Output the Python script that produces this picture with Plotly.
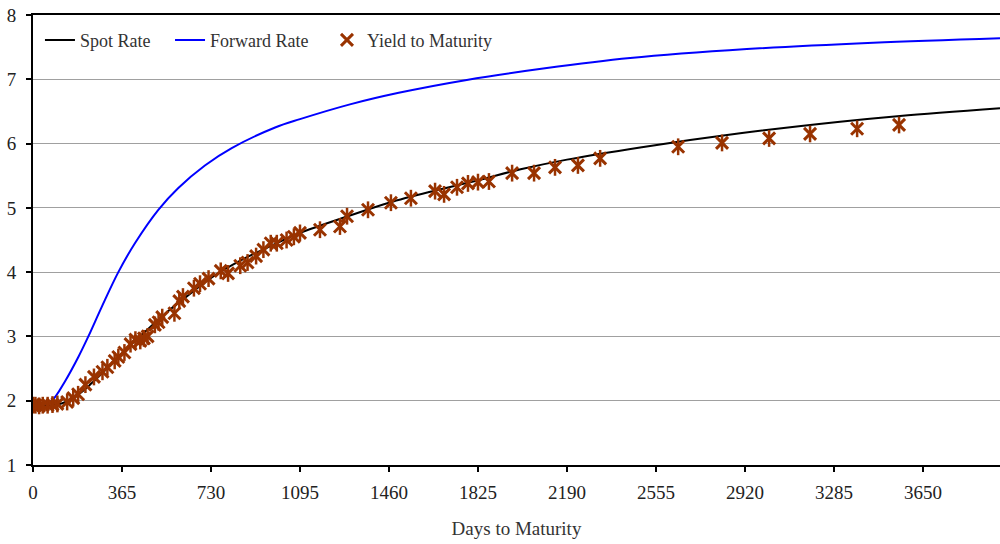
import plotly.graph_objects as go

# Spot rate curve (days, %)
spot_days = [0, 60, 120, 180, 240, 300, 365, 450, 550, 650, 730, 850, 1000, 1095,
             1300, 1460, 1650, 1825, 2000, 2190, 2490, 2900, 3310, 3556, 3966]
spot_rate = [1.92, 1.92, 1.96, 2.08, 2.27, 2.49, 2.74, 3.04, 3.38, 3.68, 3.91, 4.18,
             4.45, 4.61, 4.88, 5.08, 5.27, 5.43, 5.60, 5.75, 5.94, 6.16, 6.34, 6.43, 6.55]

# Forward rate curve (days, %)
fwd_days = [0, 40, 77, 131, 186, 227, 282, 350, 418, 514, 596, 705, 815, 993, 1095,
            1300, 1500, 1779, 2100, 2449, 2928, 3446, 3966]
fwd_rate = [1.92, 1.94, 2.00, 2.30, 2.68, 3.00, 3.46, 4.00, 4.45, 4.97, 5.31, 5.66,
            5.93, 6.25, 6.38, 6.61, 6.79, 6.99, 7.17, 7.33, 7.47, 7.57, 7.64]

# Observed yields to maturity (days, %)
ytm_days = [0, 10, 25, 40, 60, 80, 100, 140, 165, 185, 215, 250, 285, 305, 335, 350,
            375, 400, 420, 440, 455, 470, 500, 515, 530, 580, 600, 615, 660, 685, 720,
            770, 800, 850, 880, 915, 945, 975, 1000, 1040, 1070, 1095, 1177, 1259, 1288,
            1374, 1468, 1550, 1649, 1686, 1739, 1784, 1825, 1870, 1965, 2055, 2141, 2235,
            2326, 2646, 2826, 3019, 3187, 3380, 3552]
ytm_rate = [1.93, 1.93, 1.92, 1.93, 1.93, 1.94, 1.95, 1.98, 2.04, 2.10, 2.25, 2.37,
            2.45, 2.52, 2.62, 2.68, 2.75, 2.88, 2.95, 2.93, 2.97, 3.00, 3.18, 3.22, 3.30,
            3.36, 3.55, 3.62, 3.75, 3.82, 3.90, 4.02, 3.98, 4.10, 4.15, 4.25, 4.35, 4.45,
            4.45, 4.50, 4.55, 4.61, 4.66, 4.71, 4.87, 4.97, 5.08, 5.15, 5.26, 5.21, 5.32,
            5.38, 5.40, 5.41, 5.54, 5.54, 5.63, 5.66, 5.77, 5.95, 6.01, 6.08, 6.15, 6.23, 6.29]

x_ticks = [0, 365, 730, 1095, 1460, 1825, 2190, 2555, 2920, 3285, 3650]
y_ticks = [1, 2, 3, 4, 5, 6, 7, 8]

FONT = "Liberation Serif"
BROWN = "#993300"

fig = go.Figure()
fig.add_trace(go.Scatter(x=spot_days, y=spot_rate, mode="lines", name="Spot Rate",
                         legend="legend",
                         line=dict(color="black", width=2, shape="spline")))
fig.add_trace(go.Scatter(x=fwd_days, y=fwd_rate, mode="lines", name="Forward Rate",
                         legend="legend2",
                         line=dict(color="#0000FF", width=2, shape="spline")))
fig.add_trace(go.Scatter(x=ytm_days, y=ytm_rate, mode="markers", name="Yield to Maturity",
                         legend="legend3",
                         marker=dict(symbol="x-thin-open", size=12, color=BROWN,
                                     line=dict(color=BROWN, width=3))))
fig.add_trace(go.Scatter(x=ytm_days, y=ytm_rate, mode="markers", showlegend=False,
                         hoverinfo="skip",
                         marker=dict(symbol="line-ns-open", size=12, color=BROWN,
                                     line=dict(color=BROWN, width=2.5))))

leg_common = dict(orientation="h", yanchor="middle", xanchor="left", y=0.944,
                  bgcolor="rgba(255,255,255,0)",
                  font=dict(family=FONT, size=18, color="#333"))

fig.update_layout(
    width=1000, height=544,
    margin=dict(l=33, r=0, t=15, b=79),
    paper_bgcolor="white", plot_bgcolor="white",
    font=dict(family=FONT, size=19, color="#222"),
    showlegend=True,
    legend=dict(x=0.0072, **leg_common),
    legend2=dict(x=0.1417, **leg_common),
    legend3=dict(x=0.304, **leg_common),
    xaxis=dict(range=[0, 3966], tickvals=x_ticks, ticktext=[str(v) for v in x_ticks],
               showgrid=False, zeroline=False, showline=True, linecolor="black",
               linewidth=2, mirror=True, ticks="outside", ticklen=5, tickwidth=1.5,
               tickcolor="black", automargin=False, ticklabelstandoff=4,
               title=dict(text="Days to Maturity", standoff=20,
                          font=dict(family=FONT, size=19, color="#333")),
               tickfont=dict(family=FONT, size=19, color="#222")),
    yaxis=dict(range=[1, 8], tickvals=y_ticks, showgrid=True, gridcolor="#a0a0a0",
               gridwidth=1, zeroline=False, showline=True, linecolor="black",
               linewidth=2, ticks="outside", ticklen=5, tickwidth=1.5, tickcolor="black",
               automargin=False, ticklabelstandoff=6,
               tickfont=dict(family=FONT, size=19, color="#222")),
)

fig.write_html("out.html", config={"displayModeBar": False},
               post_script="document.body.style.margin='0';document.body.style.overflow='hidden';")
